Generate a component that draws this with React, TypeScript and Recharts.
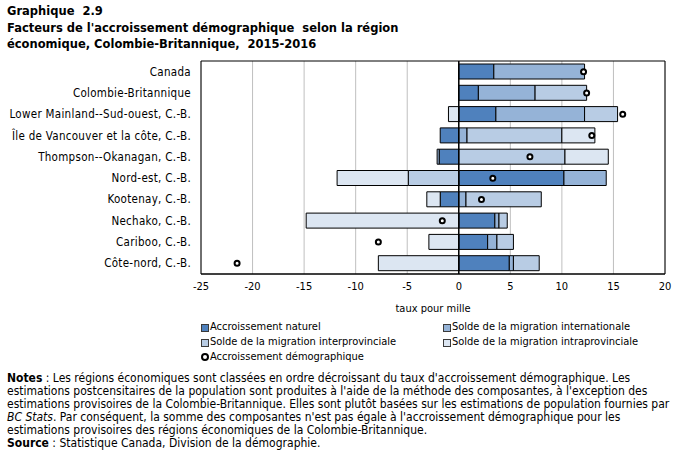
import React from "react";
import {
  ComposedChart,
  Bar,
  Line,
  XAxis,
  YAxis,
  CartesianGrid,
  ReferenceLine,
  ReferenceArea,
} from "recharts";

const regions = [
  "Canada",
  "Colombie-Britannique",
  "Lower Mainland--Sud-ouest, C.-B.",
  "Île de Vancouver et la côte, C.-B.",
  "Thompson--Okanagan, C.-B.",
  "Nord-est, C.-B.",
  "Kootenay, C.-B.",
  "Nechako, C.-B.",
  "Cariboo, C.-B.",
  "Côte-nord, C.-B.",
];

// taux pour mille
const naturel = [3.4, 1.9, 3.6, -1.8, -1.9, 10.2, -1.8, 3.5, 2.8, 4.9];
const international = [8.8, 5.5, 8.6, 0.8, -0.2, 4.1, 0.7, 0.4, 0.9, 0.4];
const interprovincial = [0, 5.0, 3.2, 9.2, 10.3, -4.9, 7.3, 0.8, 1.6, 2.5];
const intraprovincial = [0, 0, -1.0, 3.2, 4.2, -6.9, -1.3, -14.8, -2.9, -7.8];
const accroissement = [12.1, 12.4, 15.9, 12.9, 6.9, 3.3, 2.2, -1.6, -7.8, -21.5];

const xTicks = [-25, -20, -15, -10, -5, 0, 5, 10, 15, 20];

const series = [
  { key: "naturel", name: "Accroissement naturel", color: "#4F81BD" },
  { key: "international", name: "Solde de la migration internationale", color: "#95B3D7" },
  { key: "interprovincial", name: "Solde de la migration interprovinciale", color: "#B8CCE4" },
  { key: "intraprovincial", name: "Solde de la migration intraprovinciale", color: "#DCE6F2" },
];

const data = regions.map((region, i) => ({
  region,
  naturel: naturel[i],
  international: international[i],
  interprovincial: interprovincial[i],
  intraprovincial: intraprovincial[i],
  total: accroissement[i],
}));

const FONT = "'DejaVu Sans Condensed', 'DejaVu Sans', sans-serif";

// region names on one line, right-aligned against the plot
function RegionTick({ x, y, payload }: any) {
  return (
    <text
      x={x}
      y={y}
      dy={4}
      textAnchor="end"
      fontSize={11.5}
      letterSpacing={0.3}
      fill="#000"
      fontFamily={FONT}
    >
      {payload.value}
    </text>
  );
}

function Swatch({ color }: { color: string }) {
  return (
    <span
      style={{
        position: "absolute",
        left: 0,
        top: 4,
        width: 6,
        height: 6,
        background: color,
        border: "1px solid #3a3a3a",
      }}
    />
  );
}

function LegendItem({ x, y, color, label, dot }: { x: number; y: number; color?: string; label: string; dot?: boolean }) {
  return (
    <div style={{ position: "absolute", left: x, top: y, paddingLeft: 9, fontSize: 11, lineHeight: "14px", whiteSpace: "nowrap" }}>
      {dot ? (
        <span
          style={{
            position: "absolute",
            left: 0,
            top: 3,
            width: 4,
            height: 4,
            borderRadius: "50%",
            background: "#fff",
            border: "2px solid #000",
          }}
        />
      ) : (
        <Swatch color={color!} />
      )}
      {label}
    </div>
  );
}

export default function App() {
  return (
    <div
      style={{
        position: "absolute",
        left: 0,
        top: 0,
        width: 682,
        height: 455,
        background: "#fff",
        fontFamily: FONT,
        color: "#000",
      }}
    >
      <div
        style={{
          position: "absolute",
          left: 7,
          top: 3,
          fontFamily: "'DejaVu Sans', sans-serif",
          fontWeight: "bold",
          fontSize: 11.5,
          lineHeight: "16.5px",
          whiteSpace: "pre",
        }}
      >
        {"Graphique  2.9\nFacteurs de l'accroissement démographique  selon la région\néconomique, Colombie-Britannique,  2015-2016"}
      </div>

      <div style={{ position: "absolute", left: 0, top: 55 }}>
        <ComposedChart
          width={682}
          height={260}
          data={data}
          layout="vertical"
          stackOffset="sign"
          margin={{ top: 6, right: 17, bottom: 0, left: 0 }}
          barSize={15}
        >
          <CartesianGrid horizontal={false} stroke="#BFBFBF" />
          <XAxis
            type="number"
            domain={[-25, 20]}
            ticks={xTicks}
            interval={0}
            tickLine={false}
            tickSize={0}
            tickMargin={8}
            axisLine={{ stroke: "#000" }}
            height={41}
            tick={{ fontSize: 11, fill: "#000", fontFamily: FONT }}
            label={{ value: "taux pour mille", position: "insideBottom", offset: 3, fontSize: 11, fill: "#000", fontFamily: FONT }}
          />
          <YAxis
            type="category"
            dataKey="region"
            width={201}
            tickLine={false}
            tickSize={0}
            tickMargin={10}
            axisLine={false}
            interval={0}
            tick={<RegionTick />}
          />
          <ReferenceArea x1={-25} x2={20} fill="none" fillOpacity={0} stroke="#000" strokeOpacity={1} />
          {series.map((s) => (
            <Bar
              key={s.key}
              dataKey={s.key}
              name={s.name}
              stackId="a"
              fill={s.color}
              stroke="#000"
              strokeWidth={1}
              isAnimationActive={false}
            />
          ))}
          <ReferenceLine x={0} stroke="#000" strokeWidth={1.5} />
          <Line
            dataKey="total"
            name="Accroissement démographique"
            stroke="none"
            isAnimationActive={false}
            activeDot={false}
            dot={(p: any) => (
              <circle key={`d-${p.index}`} cx={p.cx} cy={p.cy} r={2.5} fill="#fff" stroke="#000" strokeWidth={2} />
            )}
          />
        </ComposedChart>
      </div>

      <LegendItem x={201} y={320} color={series[0].color} label={series[0].name} />
      <LegendItem x={443} y={320} color={series[1].color} label={series[1].name} />
      <LegendItem x={201} y={335} color={series[2].color} label={series[2].name} />
      <LegendItem x={443} y={335} color={series[3].color} label={series[3].name} />
      <LegendItem x={201} y={350} label="Accroissement démographique" dot />

      <div
        style={{
          position: "absolute",
          left: 7,
          top: 372,
          width: 672,
          fontSize: 12,
          lineHeight: "13px",
          whiteSpace: "nowrap",
        }}
      >
        <b>Notes</b> : Les régions économiques sont classées en ordre décroissant du taux d'accroissement démographique. Les
        <br />
        estimations postcensitaires de la population sont produites à l'aide de la méthode des composantes, à l'exception des
        <br />
        estimations provisoires de la Colombie-Britannique. Elles sont plutôt basées sur les estimations de population fournies par
        <br />
        <i>BC Stats</i>. Par conséquent, la somme des composantes n'est pas égale à l'accroissement démographique pour les
        <br />
        estimations provisoires des régions économiques de la Colombie-Britannique.
        <br />
        <b>Source</b> : Statistique Canada, Division de la démographie.
      </div>
    </div>
  );
}
